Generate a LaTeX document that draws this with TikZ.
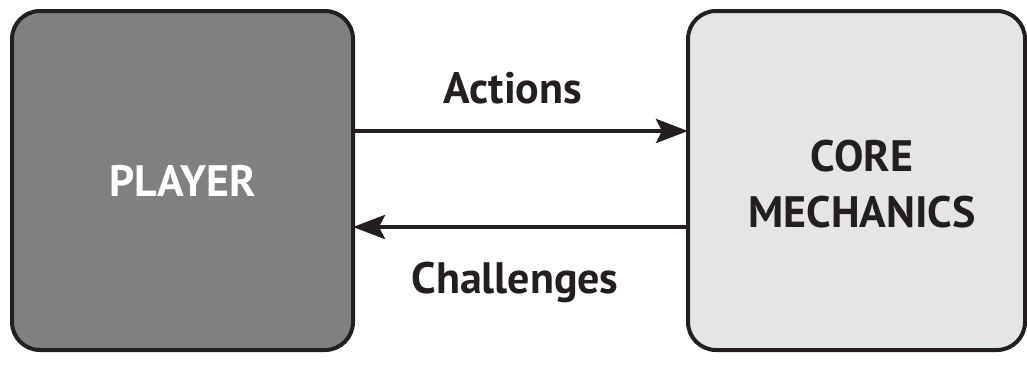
\documentclass[tikz,border=0pt]{standalone}
\usepackage{fontspec}
\setmainfont{PT Sans}
\usetikzlibrary{arrows.meta}
\definecolor{ink}{HTML}{231F20}
\definecolor{playerfill}{HTML}{808083}
\definecolor{corefill}{HTML}{E4E5E7}
\tikzset{
  block/.style={draw=ink, line width=4pt, rounded corners=28pt, inner sep=0pt},
  flow/.style={draw=ink, line width=4.2pt, -{Stealth[length=32pt, width=24pt, inset=6pt]}},
  label/.style={font=\bfseries\fontsize{44}{50}\selectfont, text=ink},
}
\begin{document}
\begin{tikzpicture}[x=1pt, y=-1pt]
  \useasboundingbox (0,0) rectangle (1027,365);
  % the two blocks
  \path[block, fill=playerfill] (12,11) rectangle (353,350);
  \path[block, fill=corefill] (688,11) rectangle (1025,350);
  \node[label, text=white] (player) at (183,181) {PLAYER};
  \node[label, align=center, font=\bfseries\fontsize{44}{56}\selectfont] (core) at (862,184) {CORE\\MECHANICS};
  % connector ends on the block borders
  \coordinate (pa) at (353,131);
  \coordinate (ca) at (688,131);
  \coordinate (cc) at (688,227);
  \coordinate (pc) at (353,227);
  \draw[flow] (pa) -- (ca);
  \draw[flow] (cc) -- (pc);
  \node[label] (actions) at (513,88) {Actions};
  \node[label] (challenges) at (515,282) {Challenges};
\end{tikzpicture}
\end{document}
